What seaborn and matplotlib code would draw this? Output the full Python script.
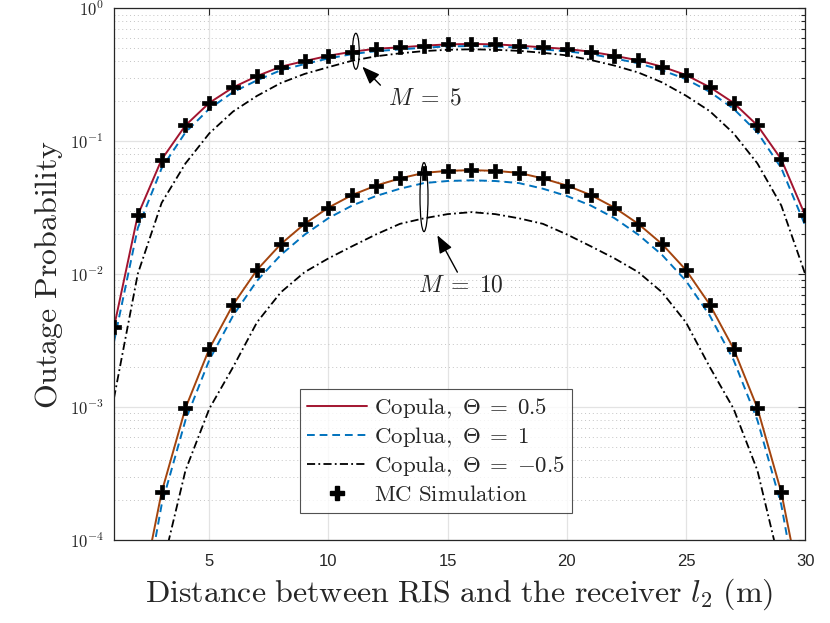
import numpy as np
import matplotlib
matplotlib.use('Agg')
import matplotlib.pyplot as plt
import seaborn as sns
from matplotlib.patches import Ellipse
from matplotlib.lines import Line2D
from matplotlib.ticker import FuncFormatter, LogLocator, NullFormatter

# distance l2 (m)
dist = np.arange(1, 31)

# M = 5
m5_theta05 = [0.0040, 0.0279, 0.0731, 0.132, 0.195, 0.255, 0.310, 0.365, 0.402, 0.441,
              0.473, 0.498, 0.510, 0.525, 0.537, 0.541, 0.537, 0.525, 0.510, 0.496,
              0.473, 0.441, 0.407, 0.365, 0.316, 0.256, 0.195, 0.132, 0.0734, 0.0279]
m5_theta1 = [0.0031, 0.0223, 0.0629, 0.117, 0.176, 0.235, 0.288, 0.343, 0.382, 0.421,
             0.454, 0.478, 0.492, 0.507, 0.518, 0.522, 0.518, 0.507, 0.492, 0.476,
             0.454, 0.421, 0.387, 0.343, 0.294, 0.236, 0.176, 0.117, 0.0631, 0.0234]
m5_theta_neg = [0.00117, 0.0101, 0.0345, 0.0683, 0.115, 0.168, 0.220, 0.275, 0.322, 0.362,
                0.405, 0.437, 0.460, 0.478, 0.489, 0.493, 0.489, 0.480, 0.464, 0.444,
                0.410, 0.372, 0.330, 0.278, 0.221, 0.169, 0.115, 0.0683, 0.0330, 0.0101]
m5_sim = [0.0040, 0.0279, 0.0731, 0.132, 0.195, 0.255, 0.310, 0.365, 0.402, 0.441,
          0.473, 0.498, 0.510, 0.525, 0.537, 0.541, 0.537, 0.525, 0.510, 0.496,
          0.473, 0.441, 0.407, 0.365, 0.316, 0.256, 0.195, 0.132, 0.0734, 0.0279]

# M = 10
m10_theta05 = [1.0e-6, 2.9e-5, 2.30e-4, 9.86e-4, 2.76e-3, 5.93e-3, 1.08e-2, 1.69e-2, 2.40e-2, 3.18e-2,
               3.96e-2, 4.66e-2, 5.27e-2, 5.80e-2, 6.01e-2, 6.08e-2, 6.01e-2, 5.80e-2, 5.27e-2, 4.66e-2,
               3.96e-2, 3.18e-2, 2.40e-2, 1.69e-2, 1.08e-2, 5.93e-3, 2.76e-3, 9.86e-4, 2.30e-4, 2.9e-5]
m10_theta1 = [7.0e-7, 1.9e-5, 1.85e-4, 8.0e-4, 2.27e-3, 4.90e-3, 8.95e-3, 1.40e-2, 1.99e-2, 2.65e-2,
              3.30e-2, 3.89e-2, 4.41e-2, 4.86e-2, 5.04e-2, 5.10e-2, 5.04e-2, 4.86e-2, 4.41e-2, 3.89e-2,
              3.30e-2, 2.65e-2, 1.99e-2, 1.40e-2, 8.95e-3, 4.90e-3, 2.27e-3, 8.0e-4, 1.85e-4, 1.9e-5]
m10_theta_neg = [1.0e-7, 5.0e-6, 5.96e-5, 3.35e-4, 9.76e-4, 2.01e-3, 4.36e-3, 7.33e-3, 1.04e-2, 1.32e-2,
                 1.63e-2, 2.00e-2, 2.40e-2, 2.64e-2, 2.84e-2, 2.94e-2, 2.84e-2, 2.64e-2, 2.40e-2, 2.00e-2,
                 1.63e-2, 1.32e-2, 1.04e-2, 7.33e-3, 4.36e-3, 2.01e-3, 9.76e-4, 3.35e-4, 5.96e-5, 5.0e-6]
m10_sim = [1.0e-6, 2.9e-5, 2.30e-4, 9.86e-4, 2.76e-3, 5.93e-3, 1.08e-2, 1.69e-2, 2.40e-2, 3.18e-2,
           3.96e-2, 4.66e-2, 5.27e-2, 5.80e-2, 6.01e-2, 6.08e-2, 6.01e-2, 5.80e-2, 5.27e-2, 4.66e-2,
           3.96e-2, 3.18e-2, 2.40e-2, 1.69e-2, 1.08e-2, 5.93e-3, 2.76e-3, 9.86e-4, 2.30e-4, 2.9e-5]

legend_labels = [r'$\mathrm{Copula,}\ \Theta\;=\;0.5$', r'$\mathrm{Coplua,}\ \Theta\;=\;1$',
                 r'$\mathrm{Copula,}\ \Theta\;=\;{-}0.5$', r'$\mathrm{MC\ Simulation}$']

sns.set_style('white')
plt.rcParams['mathtext.fontset'] = 'cm'
plt.rcParams['font.family'] = ['Liberation Sans', 'DejaVu Sans']

RED = '#A2142F'
ORANGE = '#A3440E'
BLUE = '#0072BD'
dash = (0, (4, 2.5))
dashdot = (0, (4.5, 1.8, 1, 1.8))

fig = plt.figure(figsize=(8.3, 6.23), dpi=100)
ax = fig.add_axes([0.1373, 0.1327, 0.8327, 0.8537])
ax.set_yscale('log')

# analytical curves
sns.lineplot(x=dist, y=m5_theta05, color=RED, lw=1.4, ax=ax)
sns.lineplot(x=dist, y=m5_theta1, color=BLUE, lw=1.4, linestyle=dash, ax=ax)
sns.lineplot(x=dist, y=m5_theta_neg, color='k', lw=1.3, linestyle=dashdot, ax=ax)
sns.lineplot(x=dist, y=m10_theta05, color=ORANGE, lw=1.4, ax=ax)
sns.lineplot(x=dist, y=m10_theta1, color=BLUE, lw=1.4, linestyle=dash, ax=ax)
sns.lineplot(x=dist, y=m10_theta_neg, color='k', lw=1.3, linestyle=dashdot, ax=ax)

# Monte Carlo markers
sns.scatterplot(x=dist, y=m5_sim, marker='P', s=100, color='k', edgecolor='k', linewidth=0.5, ax=ax, zorder=5)
sns.scatterplot(x=dist, y=m10_sim, marker='P', s=100, color='k', edgecolor='k', linewidth=0.5, ax=ax, zorder=5)

ax.set_xlim(1, 30)
ax.set_ylim(1e-4, 1)
ax.set_xticks([5, 10, 15, 20, 25, 30])
ax.yaxis.set_major_locator(LogLocator(base=10, numticks=10))
ax.yaxis.set_minor_locator(LogLocator(base=10, subs=np.arange(2, 10), numticks=20))
ax.yaxis.set_minor_formatter(NullFormatter())
ax.yaxis.set_major_formatter(FuncFormatter(lambda v, p: r'$\mathsf{10^{%d}}$' % int(round(np.log10(v)))))

ax.grid(True, which='major', color='#e3e3e3', lw=0.9, ls='-')
ax.grid(True, which='minor', axis='y', color='#c4c4c4', lw=0.7, ls=(0, (1, 3)))
ax.set_axisbelow(True)

ax.tick_params(which='both', direction='in', top=True, right=True, colors='#262626',
               labelsize=12, length=5, width=0.8)
ax.tick_params(which='minor', length=3)
ax.tick_params(axis='x', pad=10)
ax.tick_params(axis='y', pad=7.5)
for sp in ax.spines.values():
    sp.set_color('#262626')
    sp.set_linewidth(0.9)

ax.set_xlabel(r'$\mathrm{Distance\ between\ RIS\ and\ the\ receiver}\ l_2\ \mathrm{(m)}$',
              fontsize=23, color='#262626', labelpad=5)
ax.set_ylabel(r'$\mathrm{Outage\ Probability}$', fontsize=23, color='#262626', labelpad=3)

# annotations
ax.add_patch(Ellipse((0.350, 0.9195), 0.0097, 0.0677, transform=ax.transAxes,
                     facecolor='none', edgecolor='k', lw=0.9, zorder=6))
ax.add_patch(Ellipse((0.4486, 0.6453), 0.0116, 0.1297, transform=ax.transAxes,
                     facecolor='none', edgecolor='k', lw=0.9, zorder=6))
arrow = dict(arrowstyle='-|>,head_length=0.9,head_width=0.35', color='k', lw=1.0,
             mutation_scale=12, shrinkA=0, shrinkB=0)
ax.annotate('', xy=(11.42, 0.365), xytext=(12.18, 0.265), arrowprops=arrow)
ax.annotate('', xy=(14.57, 0.0197), xytext=(15.41, 0.0104), arrowprops=arrow)
ax.text(14.03, 0.212, r'$M\;=\;5$', fontsize=17, ha='center', va='center')
ax.text(15.55, 0.00828, r'$M\;=\;10$', fontsize=17, ha='center', va='center')

handles = [Line2D([], [], color=RED, lw=1.4),
           Line2D([], [], color=BLUE, lw=1.4, ls=dash),
           Line2D([], [], color='k', lw=1.3, ls=dashdot),
           Line2D([], [], color='k', marker='P', ls='none', markersize=9.5)]
leg = ax.legend(handles, legend_labels, loc='lower center', bbox_to_anchor=(0.466, 0.052),
                borderaxespad=0, fontsize=16.5, frameon=True, fancybox=False,
                handlelength=2.6, handletextpad=0.3, labelspacing=0.2, borderpad=0.3)
leg.get_frame().set_edgecolor('#262626')
leg.get_frame().set_linewidth(0.8)

fig.savefig('out.png', dpi=100)
